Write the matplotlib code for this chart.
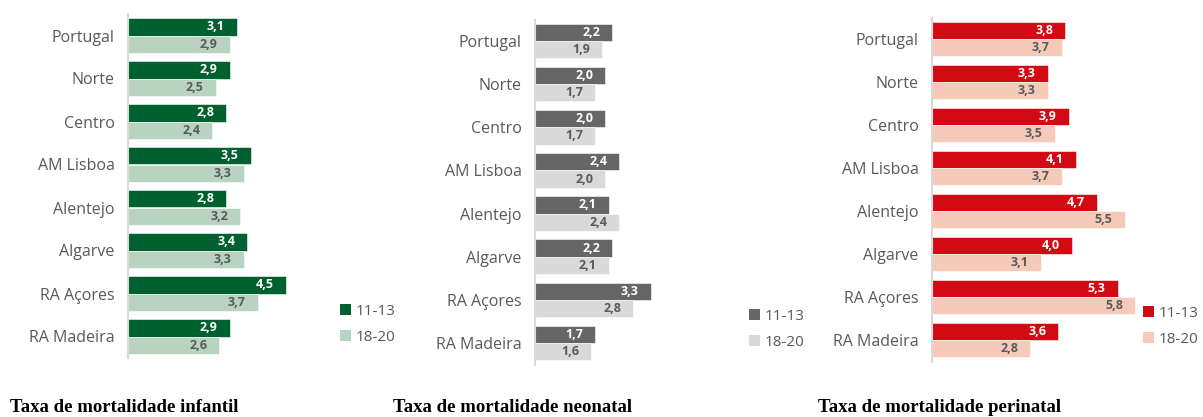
import matplotlib
matplotlib.use("Agg")
import matplotlib.pyplot as plt
from matplotlib.patches import Patch
import numpy as np

categories = ["Portugal", "Norte", "Centro", "AM Lisboa", "Alentejo", "Algarve", "RA Açores", "RA Madeira"]
series_names = ["11-13", "18-20"]

infantil_11_13 = [3.1, 2.9, 2.8, 3.5, 2.8, 3.4, 4.5, 2.9]
infantil_18_20 = [2.9, 2.5, 2.4, 3.3, 3.2, 3.3, 3.7, 2.6]
neonatal_11_13 = [2.2, 2.0, 2.0, 2.4, 2.1, 2.2, 3.3, 1.7]
neonatal_18_20 = [1.9, 1.7, 1.7, 2.0, 2.4, 2.1, 2.8, 1.6]
perinatal_11_13 = [3.8, 3.3, 3.9, 4.1, 4.7, 4.0, 5.3, 3.6]
perinatal_18_20 = [3.7, 3.3, 3.5, 3.7, 5.5, 3.1, 5.8, 2.8]

titles = ["Taxa de mortalidade infantil", "Taxa de mortalidade neonatal", "Taxa de mortalidade perinatal"]

W, H = 1203, 417
fig = plt.figure(figsize=(W / 100, H / 100), dpi=100)

FONT = ["Open Sans", "DejaVu Sans"]
LABEL_COLOR = "#595959"

panels = [
    dict(a=infantil_11_13, b=infantil_18_20, c1="#00602f", c2="#b9d3c1",
         x0=128, top=14, bottom=358, leg_x=340, leg_y=312, title_x=10),
    dict(a=neonatal_11_13, b=neonatal_18_20, c1="#666666", c2="#d9d9d9",
         x0=535, top=19.5, bottom=364.5, leg_x=749, leg_y=317, title_x=393),
    dict(a=perinatal_11_13, b=perinatal_18_20, c1="#d20a14", c2="#f5cab9",
         x0=932, top=17.5, bottom=361.5, leg_x=1143, leg_y=314, title_x=818),
]

px_per_unit = 35.0
xmax = 6.2

for p, title in zip(panels, titles):
    width_px = xmax * px_per_unit
    ax = fig.add_axes([p["x0"] / W, 1 - p["bottom"] / H, width_px / W, (p["bottom"] - p["top"]) / H])
    y = np.arange(len(categories))
    h = 0.4
    b1 = ax.barh(y - h / 2, p["a"], height=h, color=p["c1"], edgecolor="white", linewidth=0.4)
    b2 = ax.barh(y + h / 2, p["b"], height=h, color=p["c2"], edgecolor="white", linewidth=0.4)
    for rect, v in zip(b1, p["a"]):
        ax.annotate(f"{v:.1f}".replace(".", ","), (rect.get_width(), rect.get_y() + rect.get_height() / 2),
                    xytext=(-8.5, 0), textcoords="offset points", ha="right", va="center",
                    color="white", fontsize=9, fontweight="bold", family=FONT)
    for rect, v in zip(b2, p["b"]):
        ax.annotate(f"{v:.1f}".replace(".", ","), (rect.get_width(), rect.get_y() + rect.get_height() / 2),
                    xytext=(-8.5, 0), textcoords="offset points", ha="right", va="center",
                    color=LABEL_COLOR, fontsize=9, fontweight="bold", family=FONT)
    ax.set_ylim(len(categories) - 0.5, -0.5)
    ax.set_xlim(0, xmax)
    ax.set_yticks(y)
    ax.set_yticklabels(categories, family=FONT, fontsize=11.5, color=LABEL_COLOR)
    ax.tick_params(axis="y", length=0, pad=9.5)
    ax.set_xticks([])
    for s in ["top", "right", "bottom"]:
        ax.spines[s].set_visible(False)
    ax.spines["left"].set_color("#d9d9d9")
    ax.spines["left"].set_linewidth(1.5)
    ax.patch.set_alpha(0)

    handles = [Patch(facecolor=p["c1"]), Patch(facecolor=p["c2"])]
    leg = fig.legend(handles, series_names, loc="center left",
                     bbox_to_anchor=(p["leg_x"] / W, 1 - (p["leg_y"] + 12.5) / H),
                     frameon=False, handlelength=0.7, handleheight=0.7, handletextpad=0.3,
                     labelspacing=0.7, borderpad=0, borderaxespad=0,
                     prop={"family": FONT, "size": 11})
    for t in leg.get_texts():
        t.set_color(LABEL_COLOR)

    fig.text(p["title_x"] / W, 1 - 407 / H, title, ha="left", va="center",
             family=["Liberation Serif", "DejaVu Serif"], fontweight="bold", fontsize=13.5, color="black")

fig.savefig("out.png", dpi=100, facecolor="white")
